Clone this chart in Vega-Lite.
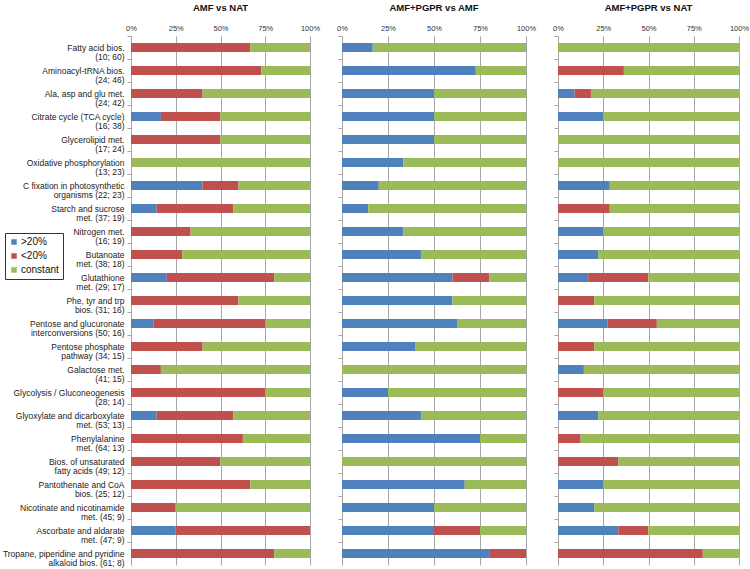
{
  "$schema": "https://vega.github.io/schema/vega-lite/v6.json",
  "padding": {"left": 2, "top": 2, "right": 2, "bottom": 2},
  "config": {
    "font": "Liberation Sans",
    "view": {"stroke": null},
    "title": {"fontSize": 9.5, "fontWeight": "bold", "color": "#111", "offset": 12, "anchor": "middle"}
  },
  "datasets": {
    "d": [
      {"panel": "A", "path": "Fatty acid bios.\n(10; 60)", ">20%": 0, "<20%": 66.7, "constant": 33.3},
      {"panel": "A", "path": "Aminoacyl-tRNA bios.\n(24; 46)", ">20%": 0, "<20%": 72.7, "constant": 27.3},
      {"panel": "A", "path": "Ala, asp and glu met.\n(24; 42)", ">20%": 0, "<20%": 40, "constant": 60},
      {"panel": "A", "path": "Citrate cycle (TCA cycle)\n(16; 38)", ">20%": 16.7, "<20%": 33.3, "constant": 50},
      {"panel": "A", "path": "Glycerolipid met.\n(17; 24)", ">20%": 0, "<20%": 50, "constant": 50},
      {"panel": "A", "path": "Oxidative phosphorylation\n(13; 23)", ">20%": 0, "<20%": 0, "constant": 100},
      {"panel": "A", "path": "C fixation in photosynthetic\norganisms (22; 23)", ">20%": 40, "<20%": 20, "constant": 40},
      {"panel": "A", "path": "Starch and sucrose\nmet. (37; 19)", ">20%": 14.3, "<20%": 42.9, "constant": 42.8},
      {"panel": "A", "path": "Nitrogen met.\n(16; 19)", ">20%": 0, "<20%": 33.3, "constant": 66.7},
      {"panel": "A", "path": "Butanoate\nmet. (38; 18)", ">20%": 0, "<20%": 28.6, "constant": 71.4},
      {"panel": "A", "path": "Glutathione\nmet. (29; 17)", ">20%": 20, "<20%": 60, "constant": 20},
      {"panel": "A", "path": "Phe, tyr and trp\nbios. (31; 16)", ">20%": 0, "<20%": 60, "constant": 40},
      {"panel": "A", "path": "Pentose and glucuronate\ninterconversions (50; 16)", ">20%": 12.5, "<20%": 62.5, "constant": 25},
      {"panel": "A", "path": "Pentose phosphate\npathway (34; 15)", ">20%": 0, "<20%": 40, "constant": 60},
      {"panel": "A", "path": "Galactose met.\n(41; 15)", ">20%": 0, "<20%": 16.7, "constant": 83.3},
      {"panel": "A", "path": "Glycolysis / Gluconeogenesis\n(28; 14)", ">20%": 0, "<20%": 75, "constant": 25},
      {"panel": "A", "path": "Glyoxylate and dicarboxylate\nmet. (53; 13)", ">20%": 14.3, "<20%": 42.9, "constant": 42.8},
      {"panel": "A", "path": "Phenylalanine\nmet. (64; 13)", ">20%": 0, "<20%": 62.5, "constant": 37.5},
      {"panel": "A", "path": "Bios. of unsaturated\nfatty acids (49; 12)", ">20%": 0, "<20%": 50, "constant": 50},
      {"panel": "A", "path": "Pantothenate and CoA\nbios. (25; 12)", ">20%": 0, "<20%": 66.7, "constant": 33.3},
      {"panel": "A", "path": "Nicotinate and nicotinamide\nmet. (45; 9)", ">20%": 0, "<20%": 25, "constant": 75},
      {"panel": "A", "path": "Ascorbate and aldarate\nmet. (47; 9)", ">20%": 25, "<20%": 75, "constant": 0},
      {"panel": "A", "path": "Tropane, piperidine and pyridine\nalkaloid bios. (61; 8)", ">20%": 0, "<20%": 80, "constant": 20},

      {"panel": "B", "path": "Fatty acid bios.\n(10; 60)", ">20%": 16.7, "<20%": 0, "constant": 83.3},
      {"panel": "B", "path": "Aminoacyl-tRNA bios.\n(24; 46)", ">20%": 72.7, "<20%": 0, "constant": 27.3},
      {"panel": "B", "path": "Ala, asp and glu met.\n(24; 42)", ">20%": 50, "<20%": 0, "constant": 50},
      {"panel": "B", "path": "Citrate cycle (TCA cycle)\n(16; 38)", ">20%": 50, "<20%": 0, "constant": 50},
      {"panel": "B", "path": "Glycerolipid met.\n(17; 24)", ">20%": 50, "<20%": 0, "constant": 50},
      {"panel": "B", "path": "Oxidative phosphorylation\n(13; 23)", ">20%": 33.3, "<20%": 0, "constant": 66.7},
      {"panel": "B", "path": "C fixation in photosynthetic\norganisms (22; 23)", ">20%": 20, "<20%": 0, "constant": 80},
      {"panel": "B", "path": "Starch and sucrose\nmet. (37; 19)", ">20%": 14.3, "<20%": 0, "constant": 85.7},
      {"panel": "B", "path": "Nitrogen met.\n(16; 19)", ">20%": 33.3, "<20%": 0, "constant": 66.7},
      {"panel": "B", "path": "Butanoate\nmet. (38; 18)", ">20%": 42.9, "<20%": 0, "constant": 57.1},
      {"panel": "B", "path": "Glutathione\nmet. (29; 17)", ">20%": 60, "<20%": 20, "constant": 20},
      {"panel": "B", "path": "Phe, tyr and trp\nbios. (31; 16)", ">20%": 60, "<20%": 0, "constant": 40},
      {"panel": "B", "path": "Pentose and glucuronate\ninterconversions (50; 16)", ">20%": 62.5, "<20%": 0, "constant": 37.5},
      {"panel": "B", "path": "Pentose phosphate\npathway (34; 15)", ">20%": 40, "<20%": 0, "constant": 60},
      {"panel": "B", "path": "Galactose met.\n(41; 15)", ">20%": 0, "<20%": 0, "constant": 100},
      {"panel": "B", "path": "Glycolysis / Gluconeogenesis\n(28; 14)", ">20%": 25, "<20%": 0, "constant": 75},
      {"panel": "B", "path": "Glyoxylate and dicarboxylate\nmet. (53; 13)", ">20%": 42.9, "<20%": 0, "constant": 57.1},
      {"panel": "B", "path": "Phenylalanine\nmet. (64; 13)", ">20%": 75, "<20%": 0, "constant": 25},
      {"panel": "B", "path": "Bios. of unsaturated\nfatty acids (49; 12)", ">20%": 0, "<20%": 0, "constant": 100},
      {"panel": "B", "path": "Pantothenate and CoA\nbios. (25; 12)", ">20%": 66.7, "<20%": 0, "constant": 33.3},
      {"panel": "B", "path": "Nicotinate and nicotinamide\nmet. (45; 9)", ">20%": 50, "<20%": 0, "constant": 50},
      {"panel": "B", "path": "Ascorbate and aldarate\nmet. (47; 9)", ">20%": 50, "<20%": 25, "constant": 25},
      {"panel": "B", "path": "Tropane, piperidine and pyridine\nalkaloid bios. (61; 8)", ">20%": 80, "<20%": 20, "constant": 0},

      {"panel": "C", "path": "Fatty acid bios.\n(10; 60)", ">20%": 0, "<20%": 0, "constant": 100},
      {"panel": "C", "path": "Aminoacyl-tRNA bios.\n(24; 46)", ">20%": 0, "<20%": 36.4, "constant": 63.6},
      {"panel": "C", "path": "Ala, asp and glu met.\n(24; 42)", ">20%": 9.1, "<20%": 9.1, "constant": 81.8},
      {"panel": "C", "path": "Citrate cycle (TCA cycle)\n(16; 38)", ">20%": 25, "<20%": 0, "constant": 75},
      {"panel": "C", "path": "Glycerolipid met.\n(17; 24)", ">20%": 0, "<20%": 0, "constant": 100},
      {"panel": "C", "path": "Oxidative phosphorylation\n(13; 23)", ">20%": 0, "<20%": 0, "constant": 100},
      {"panel": "C", "path": "C fixation in photosynthetic\norganisms (22; 23)", ">20%": 28.6, "<20%": 0, "constant": 71.4},
      {"panel": "C", "path": "Starch and sucrose\nmet. (37; 19)", ">20%": 0, "<20%": 28.6, "constant": 71.4},
      {"panel": "C", "path": "Nitrogen met.\n(16; 19)", ">20%": 25, "<20%": 0, "constant": 75},
      {"panel": "C", "path": "Butanoate\nmet. (38; 18)", ">20%": 22.2, "<20%": 0, "constant": 77.8},
      {"panel": "C", "path": "Glutathione\nmet. (29; 17)", ">20%": 16.7, "<20%": 33.3, "constant": 50},
      {"panel": "C", "path": "Phe, tyr and trp\nbios. (31; 16)", ">20%": 0, "<20%": 20, "constant": 80},
      {"panel": "C", "path": "Pentose and glucuronate\ninterconversions (50; 16)", ">20%": 27.3, "<20%": 27.3, "constant": 45.4},
      {"panel": "C", "path": "Pentose phosphate\npathway (34; 15)", ">20%": 0, "<20%": 20, "constant": 80},
      {"panel": "C", "path": "Galactose met.\n(41; 15)", ">20%": 14.3, "<20%": 0, "constant": 85.7},
      {"panel": "C", "path": "Glycolysis / Gluconeogenesis\n(28; 14)", ">20%": 0, "<20%": 25, "constant": 75},
      {"panel": "C", "path": "Glyoxylate and dicarboxylate\nmet. (53; 13)", ">20%": 22.2, "<20%": 0, "constant": 77.8},
      {"panel": "C", "path": "Phenylalanine\nmet. (64; 13)", ">20%": 0, "<20%": 12.5, "constant": 87.5},
      {"panel": "C", "path": "Bios. of unsaturated\nfatty acids (49; 12)", ">20%": 0, "<20%": 33.3, "constant": 66.7},
      {"panel": "C", "path": "Pantothenate and CoA\nbios. (25; 12)", ">20%": 25, "<20%": 0, "constant": 75},
      {"panel": "C", "path": "Nicotinate and nicotinamide\nmet. (45; 9)", ">20%": 20, "<20%": 0, "constant": 80},
      {"panel": "C", "path": "Ascorbate and aldarate\nmet. (47; 9)", ">20%": 33.3, "<20%": 16.7, "constant": 50},
      {"panel": "C", "path": "Tropane, piperidine and pyridine\nalkaloid bios. (61; 8)", ">20%": 0, "<20%": 80, "constant": 20}
    ]
  },
  "spacing": 16,
  "resolve": {"scale": {"color": "shared"}},
  "hconcat": [
    {
      "width": 179, "height": 529,
      "title": {"text": "AMF vs NAT"},
      "data": {"name": "d"},
      "transform": [
        {"filter": "datum.panel === 'A'"},
        {"fold": [">20%", "<20%", "constant"], "as": ["cls", "pct"]},
        {"window": [{"op": "row_number", "as": "k"}], "groupby": ["path"]}
      ],
      "mark": {"type": "bar"},
      "encoding": {
        "y": {
          "field": "path", "type": "nominal", "sort": null,
          "scale": {"paddingInner": 0.61, "paddingOuter": 0.305},
          "axis": {
            "title": null, "labelExpr": "split(datum.label, '\\n')",
            "labelFontSize": 8.5, "labelLineHeight": 9, "labelColor": "#222", "labelLimit": 0,
            "labelPadding": 3, "tickSize": 4, "tickColor": "#a6a6a6", "domainColor": "#a6a6a6",
            "tickOffset": -11.5, "labelOffset": 11.5
          }
        },
        "x": {
          "field": "pct", "type": "quantitative", "stack": "normalize",
          "scale": {"domain": [0, 1]},
          "axis": {
            "orient": "top", "title": null, "values": [0, 0.25, 0.5, 0.75, 1], "format": ".0%",
            "labelFontSize": 7.5, "labelColor": "#333", "domain": false, "ticks": false,
            "labelPadding": 4, "grid": true, "gridColor": "#a6a6a6", "gridOpacity": 1,
            "labelFlush": false
          }
        },
        "order": {"field": "k", "type": "quantitative"},
        "color": {
          "field": "cls", "type": "nominal", "sort": [">20%", "<20%", "constant"],
          "scale": {"domain": [">20%", "<20%", "constant"], "range": ["#4f81bd", "#c0504d", "#9bbb59"]},
          "legend": {
            "title": null, "orient": "none", "legendX": -126, "legendY": 197,
            "symbolType": "square", "symbolSize": 30, "symbolStrokeWidth": 0,
            "labelFontSize": 10, "labelColor": "#111", "rowPadding": 4, "labelOffset": 2,
            "strokeColor": "#333", "padding": 4, "fillColor": "white"
          }
        }
      }
    },
    {
      "width": 184, "height": 529,
      "title": {"text": "AMF+PGPR vs AMF"},
      "data": {"name": "d"},
      "transform": [
        {"filter": "datum.panel === 'B'"},
        {"fold": [">20%", "<20%", "constant"], "as": ["cls", "pct"]},
        {"window": [{"op": "row_number", "as": "k"}], "groupby": ["path"]}
      ],
      "mark": {"type": "bar"},
      "encoding": {
        "y": {
          "field": "path", "type": "nominal", "sort": null,
          "scale": {"paddingInner": 0.61, "paddingOuter": 0.305},
          "axis": {
            "title": null, "labels": false, "tickSize": 4, "tickColor": "#a6a6a6", "domainColor": "#a6a6a6",
            "tickOffset": -11.5, "minExtent": 0, "maxExtent": 4
          }
        },
        "x": {
          "field": "pct", "type": "quantitative", "stack": "normalize",
          "scale": {"domain": [0, 1]},
          "axis": {
            "orient": "top", "title": null, "values": [0, 0.25, 0.5, 0.75, 1], "format": ".0%",
            "labelFontSize": 7.5, "labelColor": "#333", "domain": false, "ticks": false,
            "labelPadding": 4, "grid": true, "gridColor": "#a6a6a6", "gridOpacity": 1,
            "labelFlush": false
          }
        },
        "order": {"field": "k", "type": "quantitative"},
        "color": {
          "field": "cls", "type": "nominal", "sort": [">20%", "<20%", "constant"],
          "scale": {"domain": [">20%", "<20%", "constant"], "range": ["#4f81bd", "#c0504d", "#9bbb59"]},
          "legend": {
            "title": null, "orient": "none", "legendX": -126, "legendY": 197,
            "symbolType": "square", "symbolSize": 30, "symbolStrokeWidth": 0,
            "labelFontSize": 10, "labelColor": "#111", "rowPadding": 4, "labelOffset": 2,
            "strokeColor": "#333", "padding": 4, "fillColor": "white"
          }
        }
      }
    },
    {
      "width": 181, "height": 529,
      "title": {"text": "AMF+PGPR vs NAT"},
      "data": {"name": "d"},
      "transform": [
        {"filter": "datum.panel === 'C'"},
        {"fold": [">20%", "<20%", "constant"], "as": ["cls", "pct"]},
        {"window": [{"op": "row_number", "as": "k"}], "groupby": ["path"]}
      ],
      "mark": {"type": "bar"},
      "encoding": {
        "y": {
          "field": "path", "type": "nominal", "sort": null,
          "scale": {"paddingInner": 0.61, "paddingOuter": 0.305},
          "axis": {
            "title": null, "labels": false, "tickSize": 4, "tickColor": "#a6a6a6", "domainColor": "#a6a6a6",
            "tickOffset": -11.5, "minExtent": 0, "maxExtent": 4
          }
        },
        "x": {
          "field": "pct", "type": "quantitative", "stack": "normalize",
          "scale": {"domain": [0, 1]},
          "axis": {
            "orient": "top", "title": null, "values": [0, 0.25, 0.5, 0.75, 1], "format": ".0%",
            "labelFontSize": 7.5, "labelColor": "#333", "domain": false, "ticks": false,
            "labelPadding": 4, "grid": true, "gridColor": "#a6a6a6", "gridOpacity": 1,
            "labelFlush": false
          }
        },
        "order": {"field": "k", "type": "quantitative"},
        "color": {
          "field": "cls", "type": "nominal", "sort": [">20%", "<20%", "constant"],
          "scale": {"domain": [">20%", "<20%", "constant"], "range": ["#4f81bd", "#c0504d", "#9bbb59"]},
          "legend": {
            "title": null, "orient": "none", "legendX": -126, "legendY": 197,
            "symbolType": "square", "symbolSize": 30, "symbolStrokeWidth": 0,
            "labelFontSize": 10, "labelColor": "#111", "rowPadding": 4, "labelOffset": 2,
            "strokeColor": "#333", "padding": 4, "fillColor": "white"
          }
        }
      }
    }
  ]
}
